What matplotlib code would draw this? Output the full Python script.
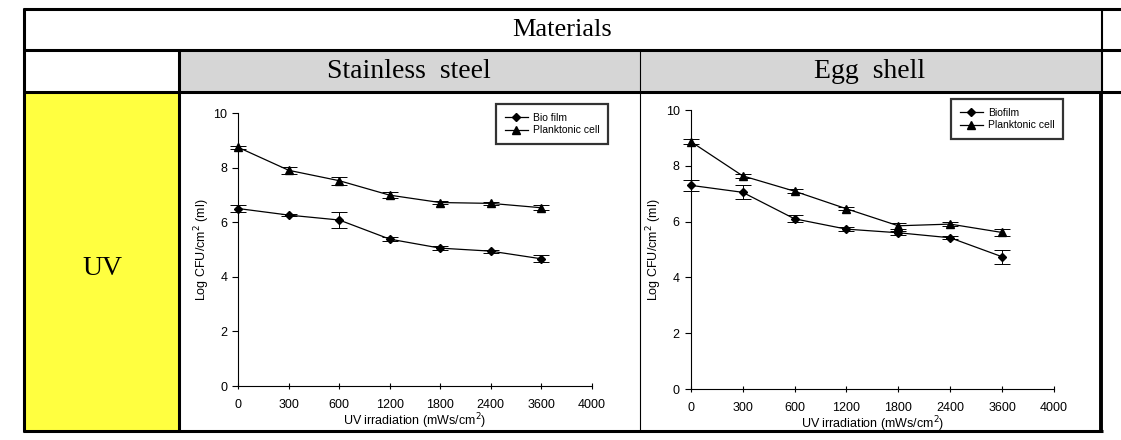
import matplotlib
matplotlib.use("Agg")
import matplotlib.pyplot as plt
from matplotlib.lines import Line2D
from matplotlib.patches import Rectangle

# === DATA ===
dose_labels = ["0", "300", "600", "1200", "1800", "2400", "3600", "4000"]

steel_biofilm = [6.50, 6.26, 6.08, 5.38, 5.05, 4.94, 4.66]
steel_biofilm_err = [0.12, 0.05, 0.28, 0.06, 0.07, 0.05, 0.13]
steel_plank = [8.74, 7.90, 7.52, 6.99, 6.72, 6.69, 6.53]
steel_plank_err = [0.05, 0.12, 0.15, 0.10, 0.06, 0.05, 0.10]

egg_biofilm = [7.30, 7.05, 6.10, 5.73, 5.60, 5.42, 4.74]
egg_biofilm_err = [0.19, 0.25, 0.12, 0.06, 0.08, 0.05, 0.26]
egg_plank = [8.87, 7.64, 7.09, 6.46, 5.85, 5.91, 5.61]
egg_plank_err = [0.10, 0.06, 0.07, 0.05, 0.10, 0.06, 0.12]

W, H = 1121, 440
SERIF = "Liberation Serif"
SANS = "Liberation Sans"


def fx(x):
    return x / W


def fy(y):
    return 1 - y / H


fig = plt.figure(figsize=(W / 100, H / 100), dpi=100)
fig.patch.set_facecolor("white")

# === table background ===
fig.add_artist(Rectangle((fx(179), fy(92)), fx(1102) - fx(179), fy(51) - fy(92),
                         facecolor="#d6d6d6", edgecolor="none", transform=fig.transFigure))
fig.add_artist(Rectangle((fx(24), fy(431)), fx(178) - fx(24), fy(93) - fy(431),
                         facecolor="#ffff40", edgecolor="none", transform=fig.transFigure))


def hline(y, x0, x1, lw):
    fig.add_artist(Line2D([fx(x0), fx(x1)], [fy(y), fy(y)], color="black", lw=lw,
                          transform=fig.transFigure, solid_capstyle="butt"))


def vline(x, y0, y1, lw):
    fig.add_artist(Line2D([fx(x), fx(x)], [fy(y0), fy(y1)], color="black", lw=lw,
                          transform=fig.transFigure, solid_capstyle="butt"))


hline(9, 22.5, 1121, 2.2)
hline(50.5, 22.5, 1121, 2.2)
hline(92.5, 22.5, 1121, 2.2)
hline(431, 22.5, 1103, 2.2)
vline(24, 8, 432, 2.2)
vline(178.5, 49, 432, 2.2)
vline(640, 50, 432, 0.8)
vline(1102, 8, 93, 1.5)
vline(1101, 93, 432, 2.8)

fig.text(fx(562), fy(30), "Materials", family=SERIF, fontsize=19, ha="center", va="center")
fig.text(fx(409), fy(72), "Stainless  steel", family=SERIF, fontsize=20, ha="center", va="center")
fig.text(fx(870), fy(72), "Egg  shell", family=SERIF, fontsize=20, ha="center", va="center")
fig.text(fx(102), fy(268), "UV", family=SERIF, fontsize=20, ha="center", va="center")


def draw_panel(box, biofilm, bio_err, plank, plank_err, bio_name, legend_box):
    x0, x1, ytop, ybot = box
    ax = fig.add_axes([fx(x0), fy(ybot), fx(x1) - fx(x0), fy(ytop) - fy(ybot)])
    pos = list(range(len(biofilm)))
    ax.errorbar(pos, biofilm, yerr=bio_err, color="black", lw=0.9, marker="D", ms=4.5,
                capsize=6, elinewidth=0.7, capthick=0.7, clip_on=False)
    ax.errorbar(pos, plank, yerr=plank_err, color="black", lw=0.9, marker="^", ms=6,
                capsize=6, elinewidth=0.7, capthick=0.7, clip_on=False)
    ax.set_xlim(0, len(dose_labels) - 1)
    ax.set_ylim(0, 10)
    ax.set_xticks(range(len(dose_labels)))
    ax.set_xticklabels(dose_labels)
    ax.set_yticks([0, 2, 4, 6, 8, 10])
    for s in ["top", "right"]:
        ax.spines[s].set_visible(False)
    for s in ["left", "bottom"]:
        ax.spines[s].set_linewidth(0.8)
    ax.tick_params(axis="x", direction="inout", length=5, width=0.8, labelsize=9, pad=7)
    ax.tick_params(axis="y", direction="out", length=4, width=0.8, labelsize=9, pad=4)
    for t in ax.get_xticklabels() + ax.get_yticklabels():
        t.set_family(SANS)
    ax.set_xlabel("UV irradiation (mWs/cm$^2$)", family=SANS, fontsize=9, labelpad=0)
    ax.set_ylabel("Log CFU/cm$^2$ (ml)", family=SANS, fontsize=9, labelpad=1)
    ax.patch.set_alpha(0)

    handles = [Line2D([], [], color="black", lw=0.9, marker="D", ms=4.5),
               Line2D([], [], color="black", lw=0.9, marker="^", ms=6)]
    lx0, lx1, ly0, ly1 = legend_box
    leg = ax.legend(handles, [bio_name, "Planktonic cell"], loc="upper left",
                    bbox_to_anchor=(fx(lx0), fy(ly1), fx(lx1) - fx(lx0), fy(ly0) - fy(ly1)),
                    bbox_transform=fig.transFigure, mode="expand",
                    prop={"family": SANS, "size": 7.5}, frameon=True, fancybox=False,
                    handlelength=2.2, handletextpad=0.5, borderpad=0.85, labelspacing=0.25,
                    borderaxespad=0)
    leg.get_frame().set_edgecolor("black")
    leg.get_frame().set_linewidth(1.6)
    return ax


draw_panel((238.3, 591.7, 113, 386), steel_biofilm, steel_biofilm_err, steel_plank,
           steel_plank_err, "Bio film", (496, 608, 104, 145))
draw_panel((690.7, 1054, 110, 389), egg_biofilm, egg_biofilm_err, egg_plank,
           egg_plank_err, "Biofilm", (951, 1063, 99, 142))

fig.savefig("out.png", dpi=100)
